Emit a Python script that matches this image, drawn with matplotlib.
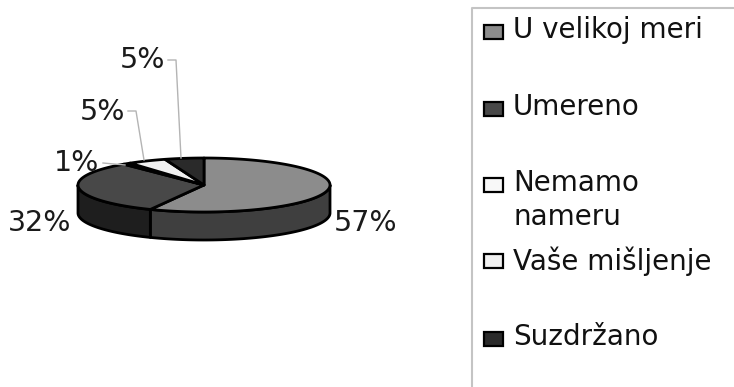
import matplotlib
matplotlib.use("Agg")
import matplotlib.pyplot as plt
from matplotlib.patches import Polygon, Rectangle
import numpy as np

labels = ['U velikoj meri', 'Umereno', 'Nemamo\nnameru', 'Vaše mišljenje', 'Suzdržano']
values = [57, 32, 1, 5, 5]
top_colors = ['#8c8c8c', '#484848', '#f8f8f8', '#f0f0f0', '#2a2a2a']
side_colors = ['#3f3f3f', '#1e1e1e', '#aaaaaa', '#aaaaaa', '#111111']

# pie geometry in pixels
cx, cy = 204, 185
rx, ry = 126, 27
depth = 28

label_pos = [(366, 223), (40, 223), (77, 163), (102, 112), (142, 60)]
leaders = [None, None,
           [(103, 163), (125, 165)],
           [(128, 111), (136, 111), (144, 160)],
           [(168, 60), (176, 60), (181, 158)]]
legend_y = [32, 109, 185, 261, 339]
legend_text_y = [30, 107, 0, 261, 337]


def rim(a, b):
    t = np.radians(np.linspace(a, b, max(int(abs(b - a)) * 2, 2)))
    return np.column_stack([cx + rx * np.sin(t), cy - ry * np.cos(t)])


fig = plt.figure(figsize=(7.34, 3.87), dpi=100)
ax = fig.add_axes([0, 0, 1, 1])
ax.set_xlim(0, 734)
ax.set_ylim(387, 0)
ax.axis('off')

edges = np.cumsum([0] + values) * 3.6

# outer wall, only the front half of the rim shows
for i in range(len(values)):
    a, b = max(edges[i], 90), min(edges[i + 1], 270)
    if a >= b:
        continue
    arc = rim(a, b)
    wall = np.vstack([arc, arc[::-1] + [0, depth]])
    ax.add_patch(Polygon(wall, closed=True, fc=side_colors[i], ec='black', lw=2, joinstyle='round'))

# top face
for i in range(len(values)):
    pts = np.vstack([[cx, cy], rim(edges[i], edges[i + 1])])
    ax.add_patch(Polygon(pts, closed=True, fc=top_colors[i], ec='black', lw=2, joinstyle='round'))

# percent labels and leader lines
for v, (x, y), lead in zip(values, label_pos, leaders):
    ax.text(x, y, f'{v}%', fontsize=20.5, color='#1a1a1a', ha='center', va='center')
    if lead:
        xs, ys = zip(*lead)
        ax.plot(xs, ys, color='#b4b4b4', lw=1)

# legend frame runs off the right and bottom edges
ax.plot([733, 472, 472], [8, 8, 387], color='#c4c4c4', lw=1.5, clip_on=False)

for i, name in enumerate(labels):
    ax.add_patch(Rectangle((484, legend_y[i] - 7), 19, 14, fc=top_colors[i], ec='black', lw=1.6))
    if '\n' in name:
        first, second = name.split('\n')
        ax.text(513, 183, first, fontsize=20, color='#111111', ha='left', va='center')
        ax.text(513, 217, second, fontsize=20, color='#111111', ha='left', va='center')
    else:
        ax.text(513, legend_text_y[i], name, fontsize=20, color='#111111', ha='left', va='center')

fig.savefig('out.png', dpi=100, facecolor='white')
